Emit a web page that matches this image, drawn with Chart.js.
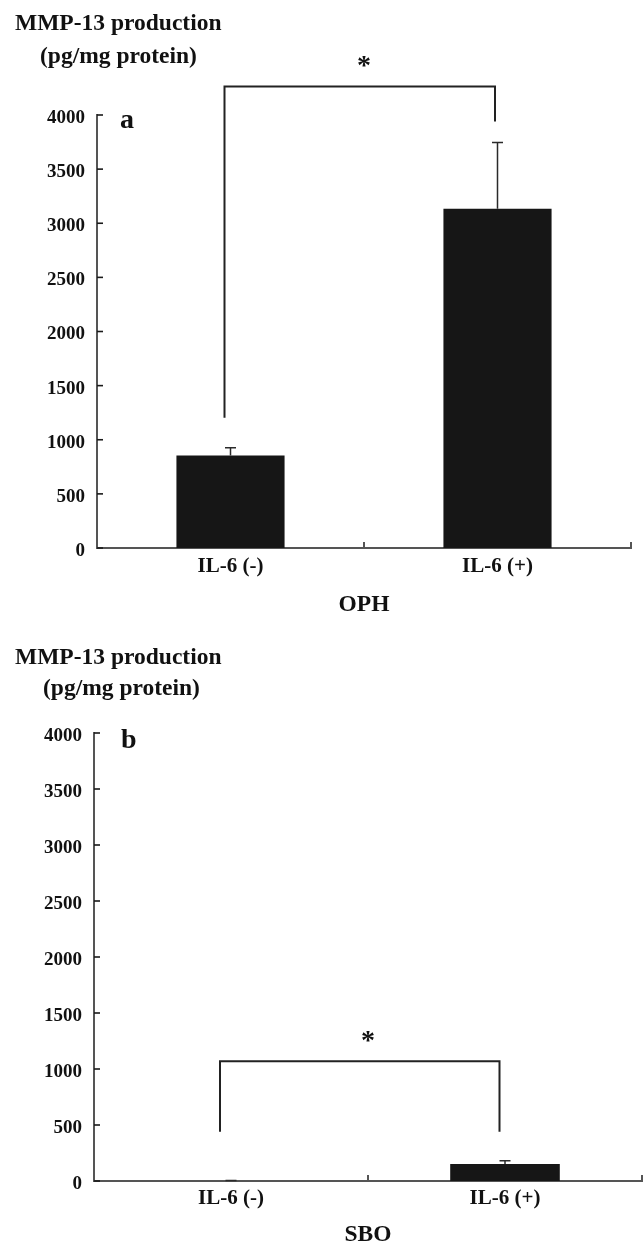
<!DOCTYPE html>
<html><head><meta charset="utf-8">
<script src="https://cdn.jsdelivr.net/npm/chart.js@4/dist/chart.umd.min.js"></script>
<style>
html,body{margin:0;padding:0;background:#fff;width:643px;height:1245px;overflow:hidden;}
#wa{position:absolute;left:0;top:0;width:643px;height:620px;}
#wb{position:absolute;left:0;top:620px;width:643px;height:640px;}
canvas{display:block;}
</style></head><body>
<div id="wa"><canvas id="ca" width="643" height="620"></canvas></div>
<div id="wb"><canvas id="cb" width="643" height="640"></canvas></div>
<script>
// ---- data ----
const categories = ['IL-6 (-)', 'IL-6 (+)'];
const yTickValues = [0, 500, 1000, 1500, 2000, 2500, 3000, 3500, 4000];
const ophMeans = [855, 3134];
const ophErrors = [70, 613];
const sboMeans = [0, 152];
const sboErrors = [4, 29];
// significance bracket: [top level, left foot, right foot]
const ophBracket = [4264, 1204, 3941];
const sboBracket = [1069, 440, 440];
const ophStarLevel = 4495;
const sboStarLevel = 1295;

const FONT = "'Liberation Serif', 'Times New Roman', serif";
const BAR = '#161616';
const AXIS = '#555555';
const INK = '#1a1a1a';

const marksPlugin = {
  id: 'marks',
  afterDatasetsDraw(chart) {
    const c = chart.config.options.plugins.marks;
    const ctx = chart.ctx;
    const ys = chart.scales.y;
    const area = chart.chartArea;
    const meta = chart.getDatasetMeta(0);
    ctx.save();
    // inward y ticks
    ctx.strokeStyle = INK; ctx.lineWidth = 1.6;
    yTickValues.forEach(v => {
      const y = ys.getPixelForValue(v);
      ctx.beginPath(); ctx.moveTo(area.left, y); ctx.lineTo(area.left + 6, y); ctx.stroke();
    });
    // x ticks at category boundaries (upward)
    ctx.strokeStyle = AXIS; ctx.lineWidth = 2;
    const bx = [(meta.data[0].x + meta.data[1].x) / 2, area.right];
    bx.forEach(x => {
      ctx.beginPath(); ctx.moveTo(x, area.bottom); ctx.lineTo(x, area.bottom - 6); ctx.stroke();
    });
    // error bars (upper only)
    ctx.strokeStyle = '#2a2a2a'; ctx.lineWidth = 1.5;
    c.means.forEach((m, i) => {
      const e = c.errors[i];
      if (!e) return;
      const x = meta.data[i].x;
      const y0 = ys.getPixelForValue(m), y1 = ys.getPixelForValue(m + e);
      ctx.beginPath(); ctx.moveTo(x, y0); ctx.lineTo(x, y1);
      ctx.moveTo(x - 5.5, y1); ctx.lineTo(x + 5.5, y1); ctx.stroke();
    });
    // bracket
    ctx.strokeStyle = '#222'; ctx.lineWidth = 2;
    const xl = meta.data[0].x + c.bracketDx[0], xr = meta.data[1].x + c.bracketDx[1];
    const yt = ys.getPixelForValue(c.bracket[0]);
    ctx.beginPath();
    ctx.moveTo(xl, ys.getPixelForValue(c.bracket[1]));
    ctx.lineTo(xl, yt); ctx.lineTo(xr, yt);
    ctx.lineTo(xr, ys.getPixelForValue(c.bracket[2]));
    ctx.stroke();
    // star
    ctx.fillStyle = '#111';
    ctx.font = 'bold 28px ' + FONT;
    ctx.textAlign = 'center'; ctx.textBaseline = 'alphabetic';
    ctx.fillText('*', (meta.data[0].x + meta.data[1].x) / 2, ys.getPixelForValue(c.star) + 13);
    // panel letter
    ctx.font = 'bold 28px ' + FONT;
    ctx.textAlign = 'left';
    ctx.fillText(c.letter, area.left + c.letterPos[0], area.top + c.letterPos[1]);
    // y-axis titles
    ctx.font = 'bold 23.5px ' + FONT;
    ctx.fillText('MMP-13 production', c.t1[0], c.t1[1]);
    ctx.fillText('(pg/mg protein)', c.t2[0], c.t2[1]);
    ctx.restore();
  }
};

function makeChart(id, cfg) {
  return new Chart(document.getElementById(id), {
    type: 'bar',
    data: {
      labels: categories,
      datasets: [{ data: cfg.means, backgroundColor: BAR, borderWidth: 0,
                   barPercentage: cfg.barPct, categoryPercentage: 1 }]
    },
    options: {
      responsive: false, animation: false,
      layout: { padding: { left: 0, right: cfg.padRight, top: cfg.padTop, bottom: 0 } },
      plugins: {
        legend: { display: false }, tooltip: { enabled: false },
        marks: cfg
      },
      scales: {
        x: {
          grid: { display: false, drawTicks: false },
          border: { display: true, color: AXIS, width: 2 },
          ticks: { font: { family: FONT, size: 21, weight: 'bold' }, color: '#111',
                   padding: cfg.xPad, maxRotation: 0 },
          title: { display: true, text: cfg.xTitle, color: '#111',
                   font: { family: FONT, size: 23.5, weight: 'bold' },
                   padding: { top: 0, bottom: cfg.titlePad } },
          afterFit(s) { s.height = cfg.xHeight; }
        },
        y: {
          min: 0, max: 4000,
          afterBuildTicks(s) { s.ticks = yTickValues.map(v => ({ value: v })); },
          grid: { display: false, drawTicks: false },
          border: { display: true, color: AXIS, width: 2 },
          ticks: { font: { family: FONT, size: 19, weight: 'bold' }, color: '#111',
                   padding: 12, labelOffset: 3, callback: v => String(v) },
          afterFit(s) { s.width = cfg.yWidth; }
        }
      }
    },
    plugins: [marksPlugin]
  });
}

makeChart('ca', {
  means: ophMeans, errors: ophErrors, bracket: ophBracket, star: ophStarLevel,
  bracketDx: [-6, -2.5], barPct: 0.405,
  padTop: 115, padRight: 12, yWidth: 97, xHeight: 72, xPad: 6, titlePad: 1,
  xTitle: 'OPH', letter: 'a', letterPos: [23, 12.5],
  t1: [15, 29.5], t2: [40, 62.5]
});
makeChart('cb', {
  means: sboMeans, errors: sboErrors, bracket: sboBracket, star: sboStarLevel,
  bracketDx: [-11, -5.5], barPct: 0.40,
  padTop: 113, padRight: 1, yWidth: 94, xHeight: 79, xPad: 4.5, titlePad: 11,
  xTitle: 'SBO', letter: 'b', letterPos: [27, 15],
  t1: [15, 44], t2: [43, 75]
});
</script>
</body></html>
